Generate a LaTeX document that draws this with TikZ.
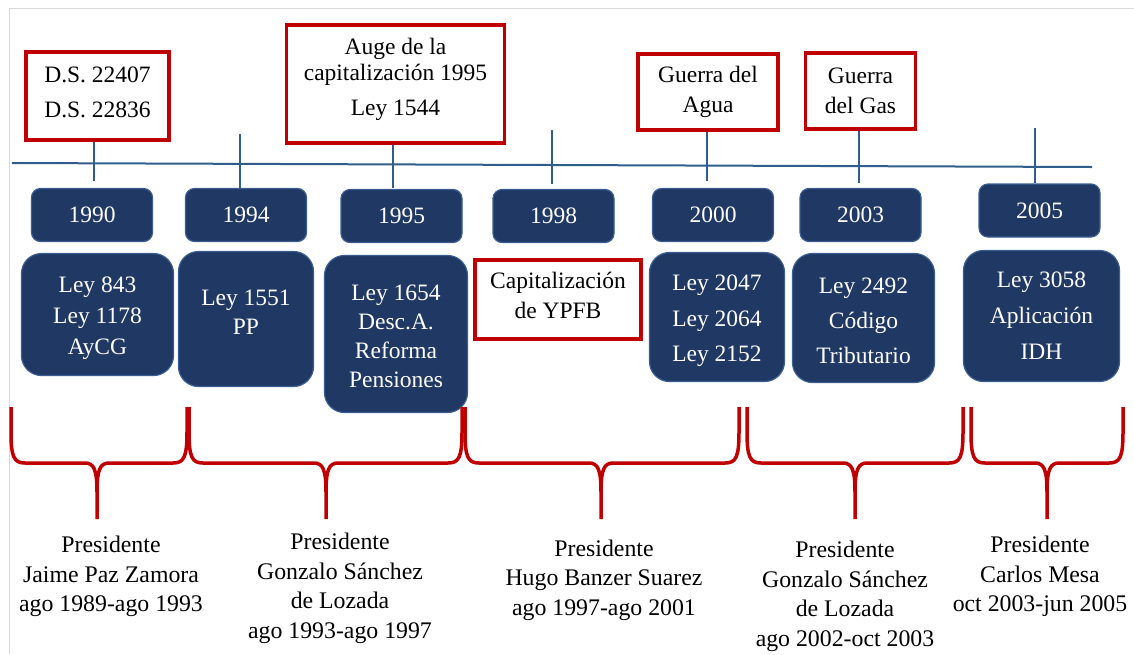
\documentclass[tikz,border=0pt]{standalone}
\usepackage{fontspec}
\setmainfont{Liberation Serif}
\definecolor{navy}{HTML}{203864}
\definecolor{navyedge}{HTML}{3A5D92}
\definecolor{axisblue}{HTML}{2F5D8C}
\definecolor{redbox}{HTML}{C00000}
\definecolor{framegray}{HTML}{D9D9D9}
\newcommand\presidentbrace[3]{%
  \draw[bracestyle] (#1,407) -- (#1,432) .. controls (#1,457) and ({#1+3},463) .. ({#1+14},463)
    -- ({#2-12},463) .. controls ({#2-3},463) and (#2,470) .. (#2,492) -- (#2,519);
  \draw[bracestyle] (#2,492) .. controls (#2,470) and ({#2+3},463) .. ({#2+12},463)
    -- ({#3-14},463) .. controls ({#3-3},463) and (#3,457) .. (#3,432) -- (#3,407);
}
\begin{document}
\begin{tikzpicture}[x=1pt,y=-1pt,
  yearbox/.style={draw=navyedge, line width=1.2pt, fill=navy, rounded corners=9pt, text=white,
    minimum width=121pt, minimum height=53pt, inner sep=0pt, font=\fontsize{23.5}{28}\selectfont},
  lawbox/.style={draw=navyedge, line width=1.2pt, fill=navy, rounded corners=20pt, text=white,
    inner sep=0pt, align=center},
  eventbox/.style={draw=redbox, line width=3.5pt, fill=white, inner sep=0pt, align=center},
  innertext/.style={inner sep=0pt, align=center},
  lawtext/.style={inner sep=0pt, align=center, text=white},
  axistick/.style={draw=axisblue, line width=2pt},
  bracestyle/.style={draw=redbox, line width=3.5pt, line cap=butt, line join=round},
  prestext/.style={align=center, inner sep=0pt, font=\fontsize{23.8}{29.5}\selectfont}
]
\useasboundingbox (0,0) rectangle (1134,654);
\draw[framegray, line width=1pt] (9,654) -- (9,8) -- (1134,8);

% timeline
\coordinate (axL) at (12,163);
\coordinate (axR) at (1092,167);
\draw[axistick] (axL) -- (axR);

% top event boxes
\node[eventbox, minimum width=143pt, minimum height=88pt] (ds) at (97.5,96) {};
\node[innertext, font=\fontsize{23.5}{35}\selectfont] (dstext) at (97.5,92) {D.S. 22407\\D.S. 22836};
\node[eventbox, minimum width=218pt, minimum height=118pt] (auge) at (395.5,84) {};
\node[innertext, font=\fontsize{23.5}{26}\selectfont] (augetext) at (395.5,79)
  {Auge de la\\capitalización 1995\\[9pt]Ley 1544};
\node[eventbox, minimum width=140pt, minimum height=76pt, font=\fontsize{23.5}{30}\selectfont]
  (agua) at (708,92) {Guerra del\\Agua};
\node[eventbox, minimum width=110pt, minimum height=76pt, font=\fontsize{23.5}{30}\selectfont]
  (gas) at (860.5,91) {Guerra\\del Gas};

% ticks
\coordinate (t90) at (94,181);
\coordinate (t94a) at (240,134);
\coordinate (t94b) at (240,188);
\coordinate (t95) at (393,188);
\coordinate (t98a) at (552,130);
\coordinate (t98b) at (552,184);
\coordinate (t00) at (707,181);
\coordinate (t03) at (859,183);
\coordinate (t05a) at (1035,128);
\coordinate (t05b) at (1035,183);
\draw[axistick] (ds.south -| t90) -- (t90);
\draw[axistick] (t94a) -- (t94b);
\draw[axistick] (auge.south -| t95) -- (t95);
\draw[axistick] (t98a) -- (t98b);
\draw[axistick] (agua.south -| t00) -- (t00);
\draw[axistick] (gas.south -| t03) -- (t03);
\draw[axistick] (t05a) -- (t05b);

% year boxes
\node[yearbox] (y90) at (92,215) {1990};
\node[yearbox] (y94) at (246,215) {1994};
\node[yearbox] (y95) at (401.5,216) {1995};
\node[yearbox] (y98) at (553.5,216) {1998};
\node[yearbox] (y00) at (713,215) {2000};
\node[yearbox] (y03) at (860.5,215) {2003};
\node[yearbox] (y05) at (1039.5,210.5) {2005};

% law boxes
\node[lawbox, minimum width=152pt, minimum height=122pt] (l90) at (97.5,314.5) {};
\node[lawtext, font=\fontsize{23.5}{31}\selectfont] (l90text) at (97.5,318.5) {Ley 843\\Ley 1178\\AyCG};
\node[lawbox, minimum width=135pt, minimum height=135pt] (l94) at (246,319) {};
\node[lawtext, font=\fontsize{23.5}{29}\selectfont] (l94text) at (246,312) {Ley 1551\\PP};
\node[lawbox, minimum width=143pt, minimum height=157pt] (l95) at (396,334) {};
\node[lawtext, font=\fontsize{23.5}{29}\selectfont] (l95text) at (396,336) {Ley 1654\\Desc.A.\\Reforma\\Pensiones};
\node[eventbox, minimum width=166pt, minimum height=79pt] (cap) at (558,299.5) {};
\node[innertext, font=\fontsize{23.5}{30}\selectfont] (captext) at (558,295.5) {Capitalización\\de YPFB};
\node[lawbox, minimum width=135pt, minimum height=129pt] (l00) at (717,317) {};
\node[lawtext, font=\fontsize{23.5}{35.5}\selectfont] (l00text) at (717,321) {Ley 2047\\Ley 2064\\Ley 2152};
\node[lawbox, minimum width=142pt, minimum height=129pt] (l03) at (863.5,318) {};
\node[lawtext, font=\fontsize{23.5}{35}\selectfont] (l03text) at (863.5,321) {Ley 2492\\Código\\Tributario};
\node[lawbox, minimum width=156pt, minimum height=131pt, font=\fontsize{23.5}{36}\selectfont]
  (l05) at (1041.5,316) {Ley 3058\\Aplicación\\IDH};

% braces
\presidentbrace{11}{97}{187}
\presidentbrace{189}{326}{462}
\presidentbrace{465}{601}{739}
\presidentbrace{747}{855}{963}
\presidentbrace{971}{1047}{1123}

% president texts
\node[prestext] (p1) at (111,576.5) {Presidente\\Jaime Paz Zamora\\ago 1989-ago 1993};
\node[prestext] (p2) at (340,588.5) {Presidente\\Gonzalo Sánchez\\de Lozada\\ago 1993-ago 1997};
\node[prestext] (p3) at (604,580) {Presidente\\Hugo Banzer Suarez\\ago 1997-ago 2001};
\node[prestext] (p4) at (845,596.5) {Presidente\\Gonzalo Sánchez\\de Lozada\\ago 2002-oct 2003};
\node[prestext] (p5) at (1040,576.5) {Presidente\\Carlos Mesa\\oct 2003-jun 2005};
\end{tikzpicture}
\end{document}
